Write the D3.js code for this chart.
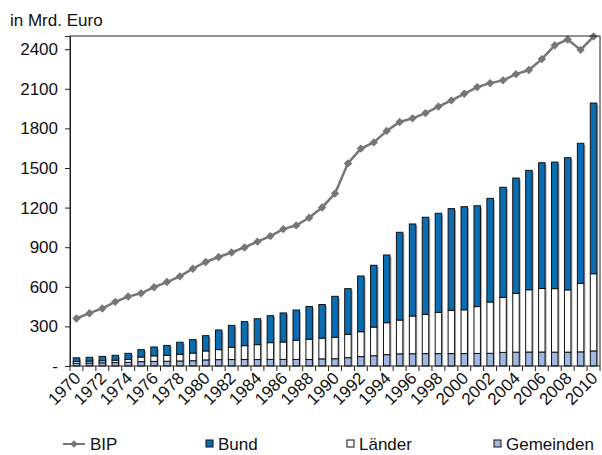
<!DOCTYPE html>
<html>
<head>
<meta charset="utf-8">
<script src="https://cdn.jsdelivr.net/npm/d3@7"></script>
<style>
  body { margin: 0; background: #fff; }
  svg { font-family: "Liberation Sans", Arial, sans-serif; }
</style>
</head>
<body>
<div id="vis-holder"></div>
<script>
// values, Mrd. Euro
const years = d3.range(1970, 2011);
const bip = [360, 400, 436, 486, 526, 551, 597, 636, 679, 737,
             788, 826, 860, 898, 942, 984, 1037, 1065, 1123, 1201,
             1307, 1535, 1647, 1694, 1781, 1849, 1876, 1916, 1965, 2012,
             2062, 2113, 2143, 2164, 2211, 2242, 2325, 2429, 2474, 2395, 2496];
const gemeinden = [20, 22, 24, 26, 28, 33, 35, 36, 38, 40,
                   46, 48, 49, 49, 49, 50, 50, 50, 49, 54,
                   55, 63, 71, 78, 86, 92, 93, 94, 94, 94,
                   94, 95, 96, 103, 105, 106, 106, 105, 105, 107, 114];
const laender = [14, 15, 16, 18, 22, 35, 42, 45, 51, 58,
                 68, 76, 93, 105, 113, 127, 132, 145, 154, 157,
                 163, 177, 189, 217, 242, 256, 286, 297, 312, 328,
                 332, 355, 389, 417, 445, 472, 481, 481, 472, 519, 585];
const bund = [28, 29, 33, 37, 46, 56, 67, 75, 91, 102,
              116, 149, 166, 182, 196, 204, 220, 229, 248, 255,
              310, 346, 422, 468, 513, 665, 697, 736, 751, 770,
              781, 764, 785, 834, 874, 904, 953, 959, 1001, 1061, 1293];
const yTicks = [0, 300, 600, 900, 1200, 1500, 1800, 2100, 2400];

const width = 602, height = 455;
const margin = { top: 36, right: 2, bottom: 89, left: 70 };

const svg = d3.select("#vis-holder")
  .append("svg")
  .attr("width", width)
  .attr("height", height);

const x = d3.scaleBand()
  .domain(years)
  .range([margin.left, width - margin.right])
  .paddingInner(0.5)
  .paddingOuter(0.25);

const y = d3.scaleLinear()
  .domain([0, 2500])
  .range([height - margin.bottom, margin.top]);

const rows = years.map((yr, i) => ({
  year: yr, Gemeinden: gemeinden[i], "Länder": laender[i], Bund: bund[i]
}));
const keys = ["Gemeinden", "Länder", "Bund"];
const fills = { Gemeinden: "#9fb9e3", "Länder": "#ffffff", Bund: "#0a6db3" };
const stacked = d3.stack().keys(keys)(rows);
const total = d => d.Gemeinden + d["Länder"] + d.Bund;

// bar shadows
svg.append("g")
  .selectAll("rect")
  .data(rows)
  .join("rect")
  .attr("x", d => x(d.year) + 1.5)
  .attr("y", d => y(total(d)) + 1.5)
  .attr("width", x.bandwidth())
  .attr("height", d => y(0) - y(total(d)) - 1.5)
  .attr("fill", "#a8a8a8");

svg.append("g")
  .selectAll("g")
  .data(stacked)
  .join("g")
  .attr("fill", d => fills[d.key])
  .selectAll("rect")
  .data(d => d)
  .join("rect")
  .attr("x", d => x(d.data.year))
  .attr("y", d => y(d[1]))
  .attr("width", x.bandwidth())
  .attr("height", d => y(d[0]) - y(d[1]))
  .attr("stroke", "#111")
  .attr("stroke-width", 1);

// BIP line
const cx = yr => x(yr) + x.bandwidth() / 2;
svg.append("path")
  .datum(years)
  .attr("fill", "none")
  .attr("stroke", "#767676")
  .attr("stroke-width", 2.5)
  .attr("d", d3.line().x(yr => cx(yr)).y((yr, i) => y(bip[i])));

svg.append("g")
  .selectAll("path")
  .data(years)
  .join("path")
  .attr("transform", (yr, i) => `translate(${cx(yr)},${y(bip[i])})`)
  .attr("d", d3.symbol(d3.symbolDiamond2, 45))
  .attr("fill", "#767676");

// plot frame
svg.append("rect")
  .attr("x", margin.left)
  .attr("y", margin.top)
  .attr("width", width - margin.right - margin.left)
  .attr("height", y(0) - margin.top)
  .attr("fill", "none")
  .attr("stroke", "#222")
  .attr("stroke-width", 1);

// y axis
svg.append("g")
  .attr("transform", `translate(${margin.left},0)`)
  .call(d3.axisLeft(y).tickValues(yTicks).tickSize(5).tickPadding(7)
    .tickFormat(v => v === 0 ? "-" : v))
  .call(g => g.select(".domain").attr("stroke", "#222"))
  .call(g => g.selectAll(".tick line").attr("stroke", "#222"))
  .call(g => g.selectAll("text").attr("font-size", "17px").attr("fill", "#111")
    .attr("font-family", "Liberation Sans, Arial, sans-serif"));

// x axis: ticks at band edges, labels every other year
const gap = (x.step() - x.bandwidth()) / 2;
svg.append("g")
  .selectAll("line")
  .data(years.concat([2011]))
  .join("line")
  .attr("x1", yr => yr === 2011 ? x(2010) + x.bandwidth() + gap : x(yr) - gap)
  .attr("x2", yr => yr === 2011 ? x(2010) + x.bandwidth() + gap : x(yr) - gap)
  .attr("y1", y(0))
  .attr("y2", y(0) + 5)
  .attr("stroke", "#222");

svg.append("g")
  .selectAll("text")
  .data(years.filter(yr => yr % 2 === 0))
  .join("text")
  .attr("transform", yr => `translate(${cx(yr) + 1},${y(0) + 9}) rotate(-45)`)
  .attr("text-anchor", "end")
  .attr("dy", "0.35em")
  .attr("font-size", "17px")
  .attr("fill", "#111")
  .text(yr => yr);

// unit label
svg.append("text")
  .attr("x", 10)
  .attr("y", 26)
  .attr("font-size", "17px")
  .attr("fill", "#111")
  .text("in Mrd. Euro");

// legend
const legY = 450;
const leg = svg.append("g");
leg.append("line")
  .attr("x1", 63).attr("x2", 85).attr("y1", legY - 6).attr("y2", legY - 6)
  .attr("stroke", "#767676").attr("stroke-width", 2);
leg.append("path")
  .attr("transform", `translate(74,${legY - 6})`)
  .attr("d", d3.symbol(d3.symbolDiamond2, 35))
  .attr("fill", "#767676");
leg.append("text").attr("x", 90).attr("y", legY).attr("font-size", "17px")
  .attr("fill", "#111").text("BIP");

const legItems = [
  { key: "Bund", x: 206 },
  { key: "Länder", x: 347 },
  { key: "Gemeinden", x: 494 }
];
legItems.forEach(it => {
  leg.append("rect")
    .attr("x", it.x).attr("y", legY - 10).attr("width", 7).attr("height", 7)
    .attr("fill", fills[it.key]).attr("stroke", "#111").attr("stroke-width", 1);
  leg.append("text").attr("x", it.x + 12).attr("y", legY)
    .attr("font-size", "17px").attr("fill", "#111").text(it.key);
});
</script>
</body>
</html>
